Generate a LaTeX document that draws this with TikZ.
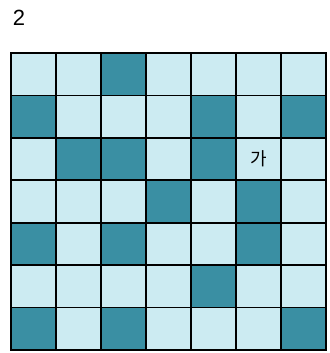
\documentclass[tikz,border=0pt]{standalone}
\usepackage{fontspec}
\setmainfont{Liberation Sans}
\newfontfamily\kofont{Noto Sans CJK KR}
\definecolor{tileLight}{HTML}{CCEBF2}
\definecolor{tileDark}{HTML}{3A8FA3}
\begin{document}
\begin{tikzpicture}[x=1pt, y=-1pt, line cap=rect, line join=miter]
\useasboundingbox (0,0) rectangle (329,353);
% Grid geometry
\def\gx{11} % left edge
\def\gy{53} % top edge
\def\cw{45} % cell width
\def\ch{42.43} % cell height
\tikzset{
  tileL/.style={fill=tileLight},
  tileD/.style={fill=tileDark},
  gridline/.style={line width=1.6pt, black}
}
% Light background
\fill[tileL] (\gx,\gy) rectangle (\gx+7*\cw,\gy+7*\ch);
% Dark cells (row/column)
\foreach \r/\c in {1/3, 2/1, 2/5, 2/7, 3/2, 3/3, 3/5, 4/4, 4/6,
                   5/1, 5/3, 5/6, 6/5, 7/1, 7/3, 7/7} {
  \fill[tileD] (\gx+\c*\cw-\cw,\gy+\r*\ch-\ch) rectangle (\gx+\c*\cw,\gy+\r*\ch);
}
% Grid lines
\foreach \i in {0,...,7} {
  \draw[gridline] (\gx+\i*\cw,\gy) -- (\gx+\i*\cw,\gy+7*\ch);
  \draw[gridline] (\gx,\gy+\i*\ch) -- (\gx+7*\cw,\gy+\i*\ch);
}
% Labels
\node[font=\fontsize{22}{24}\selectfont] (num) at (19,18) {2};
\node[font=\kofont\fontsize{18}{20}\selectfont] (ga) at (\gx+5.5*\cw,\gy+2.5*\ch) {가};
\end{tikzpicture}
\end{document}
